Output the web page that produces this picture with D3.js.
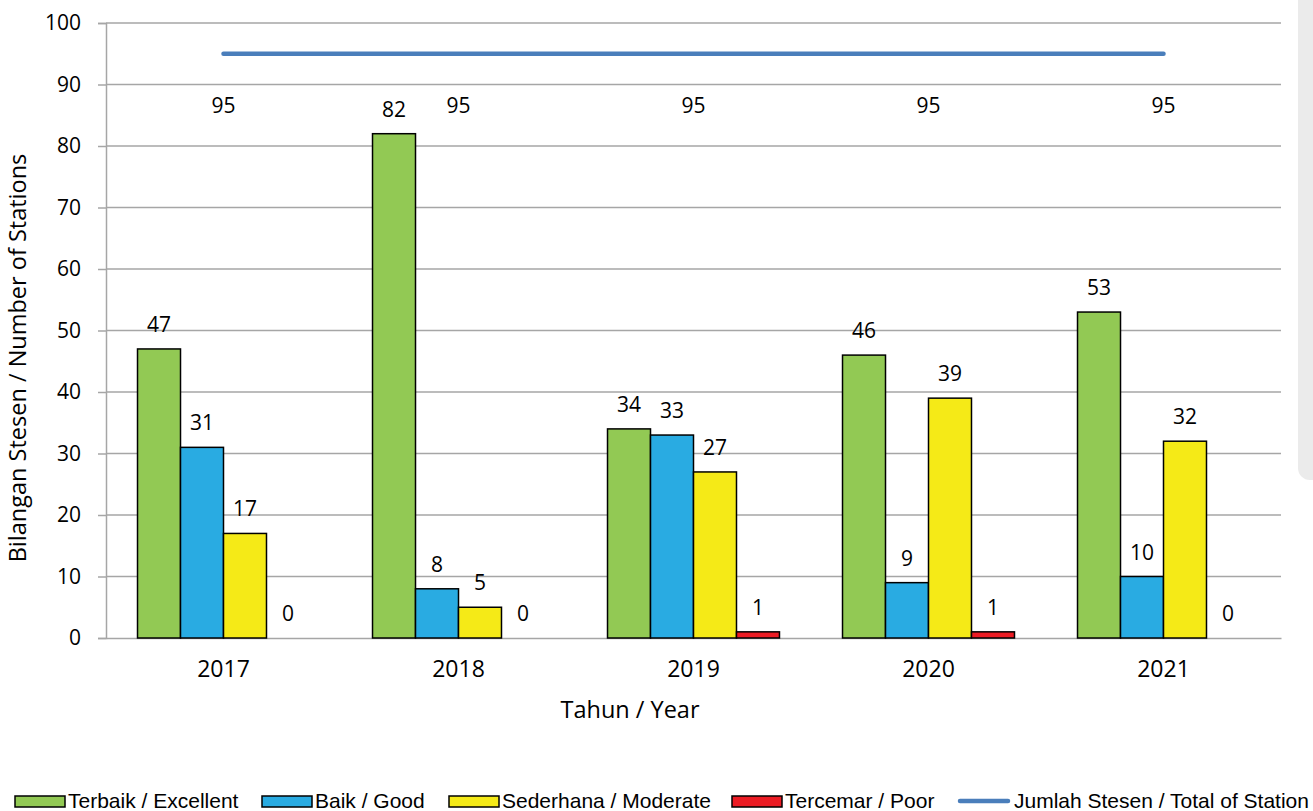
<!DOCTYPE html>
<html>
<head>
<meta charset="utf-8">
<script src="https://cdn.jsdelivr.net/npm/d3@7"></script>
<style>
  html, body { margin: 0; padding: 0; background: #fff; }
  svg { display: block; }
  .axis-text { font-family: "Open Sans", sans-serif; font-size: 21px; fill: #000; }
  .year-text { font-family: "Open Sans", sans-serif; font-size: 23px; fill: #000; }
  .title-text { font-family: "Open Sans", sans-serif; font-size: 23.5px; fill: #000; }
  .legend-text { font-family: "Liberation Sans", Arial, sans-serif; font-size: 21px; fill: #000; }
</style>
</head>
<body>
<div id="chart"></div>
<script>
'use strict';

// data
const years = ['2017', '2018', '2019', '2020', '2021'];
const excellent = [47, 82, 34, 46, 53];
const good = [31, 8, 33, 9, 10];
const moderate = [17, 5, 27, 39, 32];
const poor = [0, 0, 1, 1, 0];
const totalStations = [95, 95, 95, 95, 95];
const yTicks = [0, 10, 20, 30, 40, 50, 60, 70, 80, 90, 100];

const seriesNames = ['Terbaik / Excellent', 'Baik / Good', 'Sederhana / Moderate', 'Tercemar / Poor'];
const seriesValues = [excellent, good, moderate, poor];
const seriesColors = ['#92c954', '#29abe2', '#f5ea17', '#ec1c24'];
const lineName = 'Jumlah Stesen / Total of Station';
const lineColor = '#4a7ebb';

const width = 1313, height = 811;
const margin = { top: 23, right: 32, bottom: 173, left: 106 };

const svg = d3.select('#chart').append('svg')
  .attr('width', width).attr('height', height);

// light grey panel peeking in on the right edge
svg.append('rect')
  .attr('x', 1298).attr('y', -12).attr('width', 40).attr('height', 492)
  .attr('rx', 12).style('fill', '#ebebeb');

const x0 = d3.scaleBand().domain(years)
  .range([margin.left, width - margin.right]).paddingInner(0).paddingOuter(0);
const x1 = d3.scaleBand().domain(d3.range(seriesValues.length))
  .range([0, x0.bandwidth()]).paddingInner(0).paddingOuter(0.733);
const y = d3.scaleLinear().domain([0, 100]).range([height - margin.bottom, margin.top]);

// gridlines
svg.append('g').selectAll('line').data(yTicks.filter(d => d > 0)).enter()
  .append('line')
  .attr('x1', margin.left).attr('x2', width - margin.right)
  .attr('y1', d => y(d)).attr('y2', d => y(d))
  .style('stroke', '#a6a6a6').style('stroke-width', 1.5);

// y axis
let yAxis = d3.axisLeft(y).tickValues(yTicks).tickSize(8).tickPadding(17);
let gy = svg.append('g').attr('transform', `translate(${margin.left},0)`).call(yAxis);
gy.select('.domain').style('stroke', '#a6a6a6').style('stroke-width', 1.5);
gy.selectAll('.tick line').style('stroke', '#a6a6a6').style('stroke-width', 1.5);
gy.selectAll('.tick text').attr('class', 'axis-text').attr('font-family', null).attr('font-size', null);

// x axis
let xAxis = d3.axisBottom(x0).tickSize(0).tickPadding(23);
let gx = svg.append('g').attr('transform', `translate(0,${y(0)})`).call(xAxis);
gx.select('.domain').style('stroke', '#a6a6a6').style('stroke-width', 1.5);
gx.selectAll('.tick text').attr('class', 'year-text').attr('font-family', null).attr('font-size', null);

// bars
const bars = svg.append('g');
years.forEach(function (year, i) {
  seriesValues.forEach(function (vals, s) {
    let v = vals[i];
    let bx = x0(year) + x1(s);
    if (v > 0) {
      bars.append('rect')
        .attr('x', bx).attr('y', y(v))
        .attr('width', x1.bandwidth()).attr('height', y(0) - y(v))
        .style('fill', seriesColors[s]).style('stroke', '#000').style('stroke-width', 1.5);
    }
    bars.append('text').attr('class', 'axis-text')
      .attr('x', bx + x1.bandwidth() / 2).attr('y', y(v) - 17)
      .attr('text-anchor', 'middle').text(v);
  });
});

// total stations line
const line = d3.line().x((d, i) => x0(years[i]) + x0.bandwidth() / 2).y(d => y(d));
svg.append('path').datum(totalStations)
  .attr('d', line)
  .style('fill', 'none').style('stroke', lineColor)
  .style('stroke-width', 4.5).style('stroke-linecap', 'round');

svg.append('g').selectAll('text').data(totalStations).enter()
  .append('text').attr('class', 'axis-text')
  .attr('x', (d, i) => x0(years[i]) + x0.bandwidth() / 2)
  .attr('y', d => y(d) + 59)
  .attr('text-anchor', 'middle').text(d => d);

// axis titles
svg.append('text').attr('class', 'title-text')
  .attr('transform', 'translate(26,358) rotate(-90)')
  .attr('text-anchor', 'middle').text('Bilangan Stesen / Number of Stations');

svg.append('text').attr('class', 'title-text')
  .attr('x', 630).attr('y', 718)
  .attr('text-anchor', 'middle').text('Tahun / Year');

// legend
const legendX = [15, 262, 449, 732];
const legend = svg.append('g');
seriesNames.forEach(function (name, s) {
  legend.append('rect')
    .attr('x', legendX[s]).attr('y', 796).attr('width', 50).attr('height', 11)
    .style('fill', seriesColors[s]).style('stroke', '#000').style('stroke-width', 1.5);
  legend.append('text').attr('class', 'legend-text')
    .attr('x', legendX[s] + 53).attr('y', 808).text(name);
});
legend.append('line')
  .attr('x1', 960).attr('x2', 1008).attr('y1', 801).attr('y2', 801)
  .style('stroke', lineColor).style('stroke-width', 4.5).style('stroke-linecap', 'round');
legend.append('text').attr('class', 'legend-text')
  .attr('x', 1014).attr('y', 808).text(lineName);
</script>
</body>
</html>
